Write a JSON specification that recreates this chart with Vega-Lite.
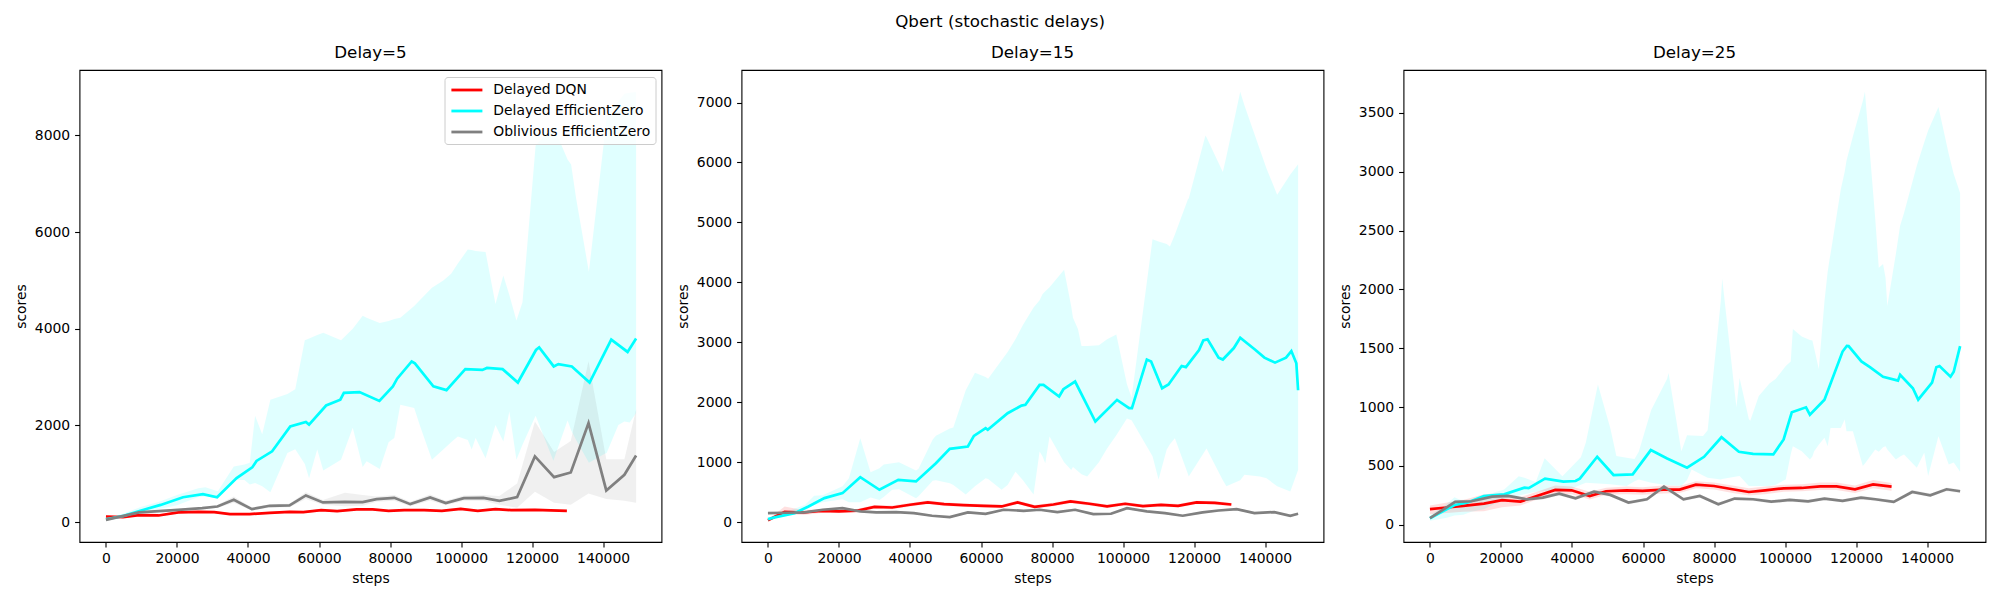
{
"$schema": "https://vega.github.io/schema/vega-lite/v6.json",
"autosize": {"type": "none"},
"padding": {"left": 79.5, "top": 70, "right": 1920.5, "bottom": 530},
"title": {"text": "Qbert (stochastic delays)", "anchor": "middle", "frame": "bounds", "offset": 14.5, "fontSize": 16.7, "fontWeight": "normal", "font": "DejaVu Sans", "color": "#000000"},
"bounds": "flush",
"spacing": 80,
"config": {
  "font": "DejaVu Sans",
  "view": {"stroke": "#000000", "strokeWidth": 1.1},
  "axis": {"domain": false, "grid": false, "ticks": true, "tickSize": 4.9, "tickWidth": 1.1, "tickColor": "#000000", "labelFontSize": 13.9, "labelColor": "#000000", "labelPadding": 4.9, "titleFontSize": 13.9, "titleFontWeight": "normal", "titleColor": "#000000", "titlePadding": 5.6, "labelFont": "DejaVu Sans", "titleFont": "DejaVu Sans", "labelFlush": false}
},
"datasets": {
"lines": [
{"d":5,"s":"Delayed DQN","x":0,"y":117},{"d":5,"s":"Delayed DQN","x":4800,"y":103},{"d":5,"s":"Delayed DQN","x":9300,"y":145},{"d":5,"s":"Delayed DQN","x":14800,"y":138},{"d":5,"s":"Delayed DQN","x":20400,"y":200},{"d":5,"s":"Delayed DQN","x":26000,"y":214},{"d":5,"s":"Delayed DQN","x":30500,"y":207},{"d":5,"s":"Delayed DQN","x":34900,"y":166},{"d":5,"s":"Delayed DQN","x":40500,"y":166},{"d":5,"s":"Delayed DQN","x":46100,"y":193},{"d":5,"s":"Delayed DQN","x":51700,"y":214},{"d":5,"s":"Delayed DQN","x":55600,"y":207},{"d":5,"s":"Delayed DQN","x":60600,"y":248},{"d":5,"s":"Delayed DQN","x":65100,"y":228},{"d":5,"s":"Delayed DQN","x":70600,"y":262},{"d":5,"s":"Delayed DQN","x":75100,"y":262},{"d":5,"s":"Delayed DQN","x":79600,"y":234},{"d":5,"s":"Delayed DQN","x":84000,"y":248},{"d":5,"s":"Delayed DQN","x":89600,"y":248},{"d":5,"s":"Delayed DQN","x":94600,"y":234},{"d":5,"s":"Delayed DQN","x":99900,"y":276},{"d":5,"s":"Delayed DQN","x":104700,"y":234},{"d":5,"s":"Delayed DQN","x":109700,"y":269},{"d":5,"s":"Delayed DQN","x":114100,"y":248},{"d":5,"s":"Delayed DQN","x":120800,"y":255},{"d":5,"s":"Delayed DQN","x":129800,"y":234},
{"d":5,"s":"Delayed EfficientZero","x":0,"y":60},{"d":5,"s":"Delayed EfficientZero","x":5000,"y":130},{"d":5,"s":"Delayed EfficientZero","x":11600,"y":277},{"d":5,"s":"Delayed EfficientZero","x":15400,"y":356},{"d":5,"s":"Delayed EfficientZero","x":21700,"y":514},{"d":5,"s":"Delayed EfficientZero","x":27300,"y":578},{"d":5,"s":"Delayed EfficientZero","x":31300,"y":514},{"d":5,"s":"Delayed EfficientZero","x":36800,"y":910},{"d":5,"s":"Delayed EfficientZero","x":41200,"y":1132},{"d":5,"s":"Delayed EfficientZero","x":42400,"y":1266},{"d":5,"s":"Delayed EfficientZero","x":46800,"y":1464},{"d":5,"s":"Delayed EfficientZero","x":51900,"y":1978},{"d":5,"s":"Delayed EfficientZero","x":56300,"y":2073},{"d":5,"s":"Delayed EfficientZero","x":57200,"y":2018},{"d":5,"s":"Delayed EfficientZero","x":62000,"y":2413},{"d":5,"s":"Delayed EfficientZero","x":66000,"y":2532},{"d":5,"s":"Delayed EfficientZero","x":67000,"y":2675},{"d":5,"s":"Delayed EfficientZero","x":71400,"y":2690},{"d":5,"s":"Delayed EfficientZero","x":77000,"y":2508},{"d":5,"s":"Delayed EfficientZero","x":80800,"y":2809},{"d":5,"s":"Delayed EfficientZero","x":82000,"y":2967},{"d":5,"s":"Delayed EfficientZero","x":86100,"y":3323},{"d":5,"s":"Delayed EfficientZero","x":87000,"y":3284},{"d":5,"s":"Delayed EfficientZero","x":92200,"y":2809},{"d":5,"s":"Delayed EfficientZero","x":95900,"y":2730},{"d":5,"s":"Delayed EfficientZero","x":101200,"y":3165},{"d":5,"s":"Delayed EfficientZero","x":106000,"y":3149},{"d":5,"s":"Delayed EfficientZero","x":107300,"y":3189},{"d":5,"s":"Delayed EfficientZero","x":111700,"y":3165},{"d":5,"s":"Delayed EfficientZero","x":116000,"y":2888},{"d":5,"s":"Delayed EfficientZero","x":121100,"y":3561},{"d":5,"s":"Delayed EfficientZero","x":122000,"y":3616},{"d":5,"s":"Delayed EfficientZero","x":126100,"y":3221},{"d":5,"s":"Delayed EfficientZero","x":127400,"y":3268},{"d":5,"s":"Delayed EfficientZero","x":131200,"y":3221},{"d":5,"s":"Delayed EfficientZero","x":136200,"y":2888},{"d":5,"s":"Delayed EfficientZero","x":142300,"y":3775},{"d":5,"s":"Delayed EfficientZero","x":146900,"y":3521},{"d":5,"s":"Delayed EfficientZero","x":149300,"y":3798},
{"d":5,"s":"Oblivious EfficientZero","x":0,"y":48},{"d":5,"s":"Oblivious EfficientZero","x":9300,"y":200},{"d":5,"s":"Oblivious EfficientZero","x":20400,"y":255},{"d":5,"s":"Oblivious EfficientZero","x":27100,"y":290},{"d":5,"s":"Oblivious EfficientZero","x":31400,"y":324},{"d":5,"s":"Oblivious EfficientZero","x":36000,"y":462},{"d":5,"s":"Oblivious EfficientZero","x":41100,"y":269},{"d":5,"s":"Oblivious EfficientZero","x":46100,"y":338},{"d":5,"s":"Oblivious EfficientZero","x":51700,"y":345},{"d":5,"s":"Oblivious EfficientZero","x":56300,"y":552},{"d":5,"s":"Oblivious EfficientZero","x":61100,"y":407},{"d":5,"s":"Oblivious EfficientZero","x":67300,"y":421},{"d":5,"s":"Oblivious EfficientZero","x":72300,"y":414},{"d":5,"s":"Oblivious EfficientZero","x":76200,"y":476},{"d":5,"s":"Oblivious EfficientZero","x":81200,"y":503},{"d":5,"s":"Oblivious EfficientZero","x":85700,"y":372},{"d":5,"s":"Oblivious EfficientZero","x":91300,"y":510},{"d":5,"s":"Oblivious EfficientZero","x":95700,"y":393},{"d":5,"s":"Oblivious EfficientZero","x":100800,"y":497},{"d":5,"s":"Oblivious EfficientZero","x":106300,"y":503},{"d":5,"s":"Oblivious EfficientZero","x":110800,"y":441},{"d":5,"s":"Oblivious EfficientZero","x":115800,"y":517},{"d":5,"s":"Oblivious EfficientZero","x":120800,"y":1359},{"d":5,"s":"Oblivious EfficientZero","x":126200,"y":931},{"d":5,"s":"Oblivious EfficientZero","x":130900,"y":1028},{"d":5,"s":"Oblivious EfficientZero","x":135900,"y":2048},{"d":5,"s":"Oblivious EfficientZero","x":140900,"y":655},{"d":5,"s":"Oblivious EfficientZero","x":146000,"y":979},{"d":5,"s":"Oblivious EfficientZero","x":149300,"y":1379},
{"d":15,"s":"Delayed DQN","x":0,"y":30},{"d":15,"s":"Delayed DQN","x":4700,"y":170},{"d":15,"s":"Delayed DQN","x":10000,"y":160},{"d":15,"s":"Delayed DQN","x":15000,"y":185},{"d":15,"s":"Delayed DQN","x":20000,"y":180},{"d":15,"s":"Delayed DQN","x":25000,"y":190},{"d":15,"s":"Delayed DQN","x":30000,"y":255},{"d":15,"s":"Delayed DQN","x":35000,"y":244},{"d":15,"s":"Delayed DQN","x":40000,"y":290},{"d":15,"s":"Delayed DQN","x":45000,"y":330},{"d":15,"s":"Delayed DQN","x":49600,"y":300},{"d":15,"s":"Delayed DQN","x":55000,"y":283},{"d":15,"s":"Delayed DQN","x":60800,"y":272},{"d":15,"s":"Delayed DQN","x":65800,"y":261},{"d":15,"s":"Delayed DQN","x":70300,"y":330},{"d":15,"s":"Delayed DQN","x":75100,"y":255},{"d":15,"s":"Delayed DQN","x":80400,"y":294},{"d":15,"s":"Delayed DQN","x":85200,"y":345},{"d":15,"s":"Delayed DQN","x":90500,"y":306},{"d":15,"s":"Delayed DQN","x":95500,"y":261},{"d":15,"s":"Delayed DQN","x":100600,"y":306},{"d":15,"s":"Delayed DQN","x":105600,"y":267},{"d":15,"s":"Delayed DQN","x":110700,"y":289},{"d":15,"s":"Delayed DQN","x":115500,"y":272},{"d":15,"s":"Delayed DQN","x":120700,"y":328},{"d":15,"s":"Delayed DQN","x":125800,"y":322},{"d":15,"s":"Delayed DQN","x":130500,"y":294},
{"d":15,"s":"Delayed EfficientZero","x":0,"y":50},{"d":15,"s":"Delayed EfficientZero","x":1900,"y":78},{"d":15,"s":"Delayed EfficientZero","x":7500,"y":150},{"d":15,"s":"Delayed EfficientZero","x":11400,"y":261},{"d":15,"s":"Delayed EfficientZero","x":15900,"y":400},{"d":15,"s":"Delayed EfficientZero","x":21000,"y":483},{"d":15,"s":"Delayed EfficientZero","x":26000,"y":750},{"d":15,"s":"Delayed EfficientZero","x":31400,"y":539},{"d":15,"s":"Delayed EfficientZero","x":36700,"y":706},{"d":15,"s":"Delayed EfficientZero","x":41700,"y":678},{"d":15,"s":"Delayed EfficientZero","x":47300,"y":983},{"d":15,"s":"Delayed EfficientZero","x":51200,"y":1222},{"d":15,"s":"Delayed EfficientZero","x":56300,"y":1261},{"d":15,"s":"Delayed EfficientZero","x":58000,"y":1439},{"d":15,"s":"Delayed EfficientZero","x":61300,"y":1567},{"d":15,"s":"Delayed EfficientZero","x":61900,"y":1539},{"d":15,"s":"Delayed EfficientZero","x":67500,"y":1817},{"d":15,"s":"Delayed EfficientZero","x":71400,"y":1944},{"d":15,"s":"Delayed EfficientZero","x":72500,"y":1956},{"d":15,"s":"Delayed EfficientZero","x":76500,"y":2289},{"d":15,"s":"Delayed EfficientZero","x":77600,"y":2289},{"d":15,"s":"Delayed EfficientZero","x":82000,"y":2095},{"d":15,"s":"Delayed EfficientZero","x":83200,"y":2217},{"d":15,"s":"Delayed EfficientZero","x":86500,"y":2345},{"d":15,"s":"Delayed EfficientZero","x":92200,"y":1678},{"d":15,"s":"Delayed EfficientZero","x":98300,"y":2039},{"d":15,"s":"Delayed EfficientZero","x":101700,"y":1900},{"d":15,"s":"Delayed EfficientZero","x":102500,"y":1900},{"d":15,"s":"Delayed EfficientZero","x":106700,"y":2712},{"d":15,"s":"Delayed EfficientZero","x":107900,"y":2680},{"d":15,"s":"Delayed EfficientZero","x":111000,"y":2234},{"d":15,"s":"Delayed EfficientZero","x":112800,"y":2297},{"d":15,"s":"Delayed EfficientZero","x":116500,"y":2604},{"d":15,"s":"Delayed EfficientZero","x":117700,"y":2585},{"d":15,"s":"Delayed EfficientZero","x":121400,"y":2872},{"d":15,"s":"Delayed EfficientZero","x":122600,"y":3031},{"d":15,"s":"Delayed EfficientZero","x":123800,"y":3050},{"d":15,"s":"Delayed EfficientZero","x":126900,"y":2744},{"d":15,"s":"Delayed EfficientZero","x":128100,"y":2712},{"d":15,"s":"Delayed EfficientZero","x":131200,"y":2904},{"d":15,"s":"Delayed EfficientZero","x":133000,"y":3076},{"d":15,"s":"Delayed EfficientZero","x":137300,"y":2872},{"d":15,"s":"Delayed EfficientZero","x":139800,"y":2744},{"d":15,"s":"Delayed EfficientZero","x":142800,"y":2661},{"d":15,"s":"Delayed EfficientZero","x":145900,"y":2744},{"d":15,"s":"Delayed EfficientZero","x":147400,"y":2853},{"d":15,"s":"Delayed EfficientZero","x":148800,"y":2650},{"d":15,"s":"Delayed EfficientZero","x":149300,"y":2200},
{"d":15,"s":"Oblivious EfficientZero","x":0,"y":150},{"d":15,"s":"Oblivious EfficientZero","x":4700,"y":156},{"d":15,"s":"Oblivious EfficientZero","x":10300,"y":161},{"d":15,"s":"Oblivious EfficientZero","x":15400,"y":206},{"d":15,"s":"Oblivious EfficientZero","x":21000,"y":233},{"d":15,"s":"Oblivious EfficientZero","x":26000,"y":178},{"d":15,"s":"Oblivious EfficientZero","x":30500,"y":161},{"d":15,"s":"Oblivious EfficientZero","x":36100,"y":167},{"d":15,"s":"Oblivious EfficientZero","x":41100,"y":150},{"d":15,"s":"Oblivious EfficientZero","x":46200,"y":106},{"d":15,"s":"Oblivious EfficientZero","x":51200,"y":83},{"d":15,"s":"Oblivious EfficientZero","x":56300,"y":161},{"d":15,"s":"Oblivious EfficientZero","x":61300,"y":139},{"d":15,"s":"Oblivious EfficientZero","x":66400,"y":206},{"d":15,"s":"Oblivious EfficientZero","x":72000,"y":189},{"d":15,"s":"Oblivious EfficientZero","x":76500,"y":206},{"d":15,"s":"Oblivious EfficientZero","x":81500,"y":167},{"d":15,"s":"Oblivious EfficientZero","x":86500,"y":206},{"d":15,"s":"Oblivious EfficientZero","x":91600,"y":133},{"d":15,"s":"Oblivious EfficientZero","x":96600,"y":139},{"d":15,"s":"Oblivious EfficientZero","x":101100,"y":233},{"d":15,"s":"Oblivious EfficientZero","x":106700,"y":178},{"d":15,"s":"Oblivious EfficientZero","x":111800,"y":150},{"d":15,"s":"Oblivious EfficientZero","x":116800,"y":106},{"d":15,"s":"Oblivious EfficientZero","x":122400,"y":161},{"d":15,"s":"Oblivious EfficientZero","x":126900,"y":194},{"d":15,"s":"Oblivious EfficientZero","x":132000,"y":217},{"d":15,"s":"Oblivious EfficientZero","x":137000,"y":150},{"d":15,"s":"Oblivious EfficientZero","x":142600,"y":167},{"d":15,"s":"Oblivious EfficientZero","x":147100,"y":106},{"d":15,"s":"Oblivious EfficientZero","x":149300,"y":139},
{"d":25,"s":"Delayed DQN","x":0,"y":133},{"d":25,"s":"Delayed DQN","x":4800,"y":147},{"d":25,"s":"Delayed DQN","x":9400,"y":161},{"d":25,"s":"Delayed DQN","x":15200,"y":180},{"d":25,"s":"Delayed DQN","x":20300,"y":209},{"d":25,"s":"Delayed DQN","x":25500,"y":197},{"d":25,"s":"Delayed DQN","x":30100,"y":245},{"d":25,"s":"Delayed DQN","x":35300,"y":296},{"d":25,"s":"Delayed DQN","x":39900,"y":293},{"d":25,"s":"Delayed DQN","x":45000,"y":245},{"d":25,"s":"Delayed DQN","x":49600,"y":285},{"d":25,"s":"Delayed DQN","x":55400,"y":293},{"d":25,"s":"Delayed DQN","x":59900,"y":288},{"d":25,"s":"Delayed DQN","x":65700,"y":299},{"d":25,"s":"Delayed DQN","x":70300,"y":299},{"d":25,"s":"Delayed DQN","x":74900,"y":341},{"d":25,"s":"Delayed DQN","x":80000,"y":330},{"d":25,"s":"Delayed DQN","x":85200,"y":302},{"d":25,"s":"Delayed DQN","x":89800,"y":279},{"d":25,"s":"Delayed DQN","x":94400,"y":293},{"d":25,"s":"Delayed DQN","x":99600,"y":310},{"d":25,"s":"Delayed DQN","x":104700,"y":313},{"d":25,"s":"Delayed DQN","x":109900,"y":327},{"d":25,"s":"Delayed DQN","x":114500,"y":327},{"d":25,"s":"Delayed DQN","x":119700,"y":302},{"d":25,"s":"Delayed DQN","x":124800,"y":344},{"d":25,"s":"Delayed DQN","x":130000,"y":324},
{"d":25,"s":"Delayed EfficientZero","x":0,"y":56},{"d":25,"s":"Delayed EfficientZero","x":4800,"y":133},{"d":25,"s":"Delayed EfficientZero","x":7100,"y":169},{"d":25,"s":"Delayed EfficientZero","x":10600,"y":189},{"d":25,"s":"Delayed EfficientZero","x":15200,"y":245},{"d":25,"s":"Delayed EfficientZero","x":20900,"y":259},{"d":25,"s":"Delayed EfficientZero","x":26600,"y":316},{"d":25,"s":"Delayed EfficientZero","x":27800,"y":312},{"d":25,"s":"Delayed EfficientZero","x":32400,"y":392},{"d":25,"s":"Delayed EfficientZero","x":37600,"y":367},{"d":25,"s":"Delayed EfficientZero","x":41000,"y":372},{"d":25,"s":"Delayed EfficientZero","x":42200,"y":392},{"d":25,"s":"Delayed EfficientZero","x":47100,"y":578},{"d":25,"s":"Delayed EfficientZero","x":51700,"y":423},{"d":25,"s":"Delayed EfficientZero","x":57100,"y":429},{"d":25,"s":"Delayed EfficientZero","x":62200,"y":635},{"d":25,"s":"Delayed EfficientZero","x":66800,"y":564},{"d":25,"s":"Delayed EfficientZero","x":72400,"y":485},{"d":25,"s":"Delayed EfficientZero","x":77200,"y":578},{"d":25,"s":"Delayed EfficientZero","x":82100,"y":744},{"d":25,"s":"Delayed EfficientZero","x":87000,"y":620},{"d":25,"s":"Delayed EfficientZero","x":91000,"y":603},{"d":25,"s":"Delayed EfficientZero","x":96700,"y":598},{"d":25,"s":"Delayed EfficientZero","x":99600,"y":725},{"d":25,"s":"Delayed EfficientZero","x":101900,"y":956},{"d":25,"s":"Delayed EfficientZero","x":105900,"y":998},{"d":25,"s":"Delayed EfficientZero","x":107000,"y":936},{"d":25,"s":"Delayed EfficientZero","x":111100,"y":1063},{"d":25,"s":"Delayed EfficientZero","x":116200,"y":1472},{"d":25,"s":"Delayed EfficientZero","x":117400,"y":1520},{"d":25,"s":"Delayed EfficientZero","x":117900,"y":1518},{"d":25,"s":"Delayed EfficientZero","x":121500,"y":1388},{"d":25,"s":"Delayed EfficientZero","x":123900,"y":1339},{"d":25,"s":"Delayed EfficientZero","x":127600,"y":1258},{"d":25,"s":"Delayed EfficientZero","x":131800,"y":1225},{"d":25,"s":"Delayed EfficientZero","x":132400,"y":1274},{"d":25,"s":"Delayed EfficientZero","x":136000,"y":1160},{"d":25,"s":"Delayed EfficientZero","x":137500,"y":1063},{"d":25,"s":"Delayed EfficientZero","x":141400,"y":1209},{"d":25,"s":"Delayed EfficientZero","x":142600,"y":1339},{"d":25,"s":"Delayed EfficientZero","x":143500,"y":1349},{"d":25,"s":"Delayed EfficientZero","x":146600,"y":1258},{"d":25,"s":"Delayed EfficientZero","x":147500,"y":1300},{"d":25,"s":"Delayed EfficientZero","x":149300,"y":1518},
{"d":25,"s":"Oblivious EfficientZero","x":0,"y":56},{"d":25,"s":"Oblivious EfficientZero","x":7100,"y":195},{"d":25,"s":"Oblivious EfficientZero","x":11700,"y":200},{"d":25,"s":"Oblivious EfficientZero","x":17500,"y":240},{"d":25,"s":"Oblivious EfficientZero","x":22000,"y":245},{"d":25,"s":"Oblivious EfficientZero","x":27200,"y":217},{"d":25,"s":"Oblivious EfficientZero","x":31800,"y":231},{"d":25,"s":"Oblivious EfficientZero","x":36400,"y":265},{"d":25,"s":"Oblivious EfficientZero","x":41000,"y":226},{"d":25,"s":"Oblivious EfficientZero","x":46200,"y":282},{"d":25,"s":"Oblivious EfficientZero","x":50800,"y":254},{"d":25,"s":"Oblivious EfficientZero","x":55900,"y":189},{"d":25,"s":"Oblivious EfficientZero","x":61100,"y":217},{"d":25,"s":"Oblivious EfficientZero","x":65900,"y":324},{"d":25,"s":"Oblivious EfficientZero","x":71400,"y":217},{"d":25,"s":"Oblivious EfficientZero","x":76000,"y":245},{"d":25,"s":"Oblivious EfficientZero","x":81200,"y":175},{"d":25,"s":"Oblivious EfficientZero","x":85800,"y":223},{"d":25,"s":"Oblivious EfficientZero","x":91000,"y":217},{"d":25,"s":"Oblivious EfficientZero","x":96100,"y":197},{"d":25,"s":"Oblivious EfficientZero","x":101300,"y":211},{"d":25,"s":"Oblivious EfficientZero","x":106500,"y":200},{"d":25,"s":"Oblivious EfficientZero","x":111100,"y":223},{"d":25,"s":"Oblivious EfficientZero","x":116200,"y":203},{"d":25,"s":"Oblivious EfficientZero","x":121400,"y":231},{"d":25,"s":"Oblivious EfficientZero","x":125400,"y":217},{"d":25,"s":"Oblivious EfficientZero","x":130600,"y":195},{"d":25,"s":"Oblivious EfficientZero","x":135800,"y":279},{"d":25,"s":"Oblivious EfficientZero","x":140900,"y":251},{"d":25,"s":"Oblivious EfficientZero","x":145500,"y":302},{"d":25,"s":"Oblivious EfficientZero","x":149300,"y":285}
],
"bands": [
{"d":5,"s":"Delayed EfficientZero","x":0,"lo":55,"hi":75},{"d":5,"s":"Delayed EfficientZero","x":5000,"lo":110,"hi":180},{"d":5,"s":"Delayed EfficientZero","x":10000,"lo":200,"hi":320},{"d":5,"s":"Delayed EfficientZero","x":15000,"lo":270,"hi":420},{"d":5,"s":"Delayed EfficientZero","x":20000,"lo":350,"hi":560},{"d":5,"s":"Delayed EfficientZero","x":26000,"lo":520,"hi":700},{"d":5,"s":"Delayed EfficientZero","x":28000,"lo":530,"hi":720},{"d":5,"s":"Delayed EfficientZero","x":31500,"lo":500,"hi":640},{"d":5,"s":"Delayed EfficientZero","x":36000,"lo":870,"hi":1150},{"d":5,"s":"Delayed EfficientZero","x":39000,"lo":870,"hi":1190},{"d":5,"s":"Delayed EfficientZero","x":40500,"lo":780,"hi":1230},{"d":5,"s":"Delayed EfficientZero","x":42000,"lo":810,"hi":2200},{"d":5,"s":"Delayed EfficientZero","x":44000,"lo":740,"hi":1820},{"d":5,"s":"Delayed EfficientZero","x":46300,"lo":620,"hi":2530},{"d":5,"s":"Delayed EfficientZero","x":51100,"lo":1430,"hi":2650},{"d":5,"s":"Delayed EfficientZero","x":53300,"lo":1510,"hi":2750},{"d":5,"s":"Delayed EfficientZero","x":56000,"lo":1200,"hi":3760},{"d":5,"s":"Delayed EfficientZero","x":57200,"lo":910,"hi":3800},{"d":5,"s":"Delayed EfficientZero","x":59500,"lo":1500,"hi":3870},{"d":5,"s":"Delayed EfficientZero","x":61200,"lo":1070,"hi":3920},{"d":5,"s":"Delayed EfficientZero","x":66200,"lo":1290,"hi":3760},{"d":5,"s":"Delayed EfficientZero","x":69500,"lo":1950,"hi":4000},{"d":5,"s":"Delayed EfficientZero","x":72300,"lo":1140,"hi":4270},{"d":5,"s":"Delayed EfficientZero","x":73400,"lo":1260,"hi":4230},{"d":5,"s":"Delayed EfficientZero","x":77100,"lo":1100,"hi":4120},{"d":5,"s":"Delayed EfficientZero","x":79600,"lo":1650,"hi":4160},{"d":5,"s":"Delayed EfficientZero","x":81200,"lo":1740,"hi":4200},{"d":5,"s":"Delayed EfficientZero","x":82900,"lo":2430,"hi":4230},{"d":5,"s":"Delayed EfficientZero","x":86800,"lo":2360,"hi":4470},{"d":5,"s":"Delayed EfficientZero","x":88500,"lo":1980,"hi":4600},{"d":5,"s":"Delayed EfficientZero","x":91800,"lo":1290,"hi":4850},{"d":5,"s":"Delayed EfficientZero","x":95000,"lo":1500,"hi":5000},{"d":5,"s":"Delayed EfficientZero","x":97200,"lo":1650,"hi":5140},{"d":5,"s":"Delayed EfficientZero","x":99100,"lo":1770,"hi":5350},{"d":5,"s":"Delayed EfficientZero","x":101900,"lo":1700,"hi":5640},{"d":5,"s":"Delayed EfficientZero","x":103000,"lo":1500,"hi":5630},{"d":5,"s":"Delayed EfficientZero","x":104100,"lo":1740,"hi":5610},{"d":5,"s":"Delayed EfficientZero","x":106900,"lo":1320,"hi":5590},{"d":5,"s":"Delayed EfficientZero","x":109700,"lo":2010,"hi":4510},{"d":5,"s":"Delayed EfficientZero","x":111900,"lo":1670,"hi":5100},{"d":5,"s":"Delayed EfficientZero","x":113600,"lo":2290,"hi":4700},{"d":5,"s":"Delayed EfficientZero","x":115600,"lo":1290,"hi":4170},{"d":5,"s":"Delayed EfficientZero","x":117300,"lo":1600,"hi":4550},{"d":5,"s":"Delayed EfficientZero","x":121000,"lo":2200,"hi":7790},{"d":5,"s":"Delayed EfficientZero","x":126000,"lo":1270,"hi":8190},{"d":5,"s":"Delayed EfficientZero","x":130000,"lo":2100,"hi":7500},{"d":5,"s":"Delayed EfficientZero","x":131000,"lo":1900,"hi":7400},{"d":5,"s":"Delayed EfficientZero","x":132400,"lo":1700,"hi":6700},{"d":5,"s":"Delayed EfficientZero","x":136000,"lo":1230,"hi":5180},{"d":5,"s":"Delayed EfficientZero","x":140600,"lo":1420,"hi":8100},{"d":5,"s":"Delayed EfficientZero","x":141000,"lo":1430,"hi":8390},{"d":5,"s":"Delayed EfficientZero","x":144300,"lo":2010,"hi":8700},{"d":5,"s":"Delayed EfficientZero","x":146000,"lo":2080,"hi":8860},{"d":5,"s":"Delayed EfficientZero","x":147500,"lo":2060,"hi":8880},{"d":5,"s":"Delayed EfficientZero","x":149300,"lo":2260,"hi":8900},
{"d":5,"s":"Delayed DQN","x":0,"lo":95,"hi":140},{"d":5,"s":"Delayed DQN","x":4800,"lo":85,"hi":125},{"d":5,"s":"Delayed DQN","x":9300,"lo":120,"hi":170},{"d":5,"s":"Delayed DQN","x":14800,"lo":115,"hi":165},{"d":5,"s":"Delayed DQN","x":20400,"lo":175,"hi":225},{"d":5,"s":"Delayed DQN","x":26000,"lo":190,"hi":240},{"d":5,"s":"Delayed DQN","x":30500,"lo":185,"hi":230},{"d":5,"s":"Delayed DQN","x":34900,"lo":145,"hi":190},{"d":5,"s":"Delayed DQN","x":40500,"lo":145,"hi":190},{"d":5,"s":"Delayed DQN","x":46100,"lo":170,"hi":215},{"d":5,"s":"Delayed DQN","x":51700,"lo":190,"hi":240},{"d":5,"s":"Delayed DQN","x":55600,"lo":185,"hi":230},{"d":5,"s":"Delayed DQN","x":60600,"lo":225,"hi":270},{"d":5,"s":"Delayed DQN","x":65100,"lo":205,"hi":250},{"d":5,"s":"Delayed DQN","x":70600,"lo":240,"hi":285},{"d":5,"s":"Delayed DQN","x":75100,"lo":240,"hi":285},{"d":5,"s":"Delayed DQN","x":79600,"lo":210,"hi":255},{"d":5,"s":"Delayed DQN","x":84000,"lo":225,"hi":270},{"d":5,"s":"Delayed DQN","x":89600,"lo":225,"hi":270},{"d":5,"s":"Delayed DQN","x":94600,"lo":210,"hi":255},{"d":5,"s":"Delayed DQN","x":99900,"lo":250,"hi":300},{"d":5,"s":"Delayed DQN","x":104700,"lo":210,"hi":255},{"d":5,"s":"Delayed DQN","x":109700,"lo":245,"hi":290},{"d":5,"s":"Delayed DQN","x":114100,"lo":225,"hi":270},{"d":5,"s":"Delayed DQN","x":120800,"lo":230,"hi":280},{"d":5,"s":"Delayed DQN","x":129800,"lo":210,"hi":255},
{"d":5,"s":"Oblivious EfficientZero","x":0,"lo":35,"hi":60},{"d":5,"s":"Oblivious EfficientZero","x":9300,"lo":175,"hi":225},{"d":5,"s":"Oblivious EfficientZero","x":20400,"lo":230,"hi":280},{"d":5,"s":"Oblivious EfficientZero","x":27100,"lo":265,"hi":315},{"d":5,"s":"Oblivious EfficientZero","x":31400,"lo":295,"hi":355},{"d":5,"s":"Oblivious EfficientZero","x":36000,"lo":400,"hi":530},{"d":5,"s":"Oblivious EfficientZero","x":41100,"lo":235,"hi":305},{"d":5,"s":"Oblivious EfficientZero","x":46100,"lo":305,"hi":370},{"d":5,"s":"Oblivious EfficientZero","x":51700,"lo":310,"hi":380},{"d":5,"s":"Oblivious EfficientZero","x":56300,"lo":480,"hi":620},{"d":5,"s":"Oblivious EfficientZero","x":61100,"lo":360,"hi":460},{"d":5,"s":"Oblivious EfficientZero","x":67300,"lo":330,"hi":610},{"d":5,"s":"Oblivious EfficientZero","x":72300,"lo":340,"hi":560},{"d":5,"s":"Oblivious EfficientZero","x":76200,"lo":420,"hi":530},{"d":5,"s":"Oblivious EfficientZero","x":81200,"lo":440,"hi":560},{"d":5,"s":"Oblivious EfficientZero","x":85700,"lo":330,"hi":420},{"d":5,"s":"Oblivious EfficientZero","x":91300,"lo":450,"hi":570},{"d":5,"s":"Oblivious EfficientZero","x":95700,"lo":350,"hi":440},{"d":5,"s":"Oblivious EfficientZero","x":100800,"lo":440,"hi":550},{"d":5,"s":"Oblivious EfficientZero","x":106300,"lo":440,"hi":560},{"d":5,"s":"Oblivious EfficientZero","x":110800,"lo":360,"hi":540},{"d":5,"s":"Oblivious EfficientZero","x":115800,"lo":300,"hi":800},{"d":5,"s":"Oblivious EfficientZero","x":120800,"lo":630,"hi":2080},{"d":5,"s":"Oblivious EfficientZero","x":126200,"lo":400,"hi":1450},{"d":5,"s":"Oblivious EfficientZero","x":130900,"lo":360,"hi":1680},{"d":5,"s":"Oblivious EfficientZero","x":135900,"lo":590,"hi":3330},{"d":5,"s":"Oblivious EfficientZero","x":140900,"lo":480,"hi":1300},{"d":5,"s":"Oblivious EfficientZero","x":146000,"lo":440,"hi":1300},{"d":5,"s":"Oblivious EfficientZero","x":149300,"lo":400,"hi":2330},
{"d":15,"s":"Delayed EfficientZero","x":0,"lo":30,"hi":64},{"d":15,"s":"Delayed EfficientZero","x":5000,"lo":100,"hi":170},{"d":15,"s":"Delayed EfficientZero","x":10500,"lo":200,"hi":290},{"d":15,"s":"Delayed EfficientZero","x":13000,"lo":280,"hi":440},{"d":15,"s":"Delayed EfficientZero","x":15400,"lo":330,"hi":450},{"d":15,"s":"Delayed EfficientZero","x":21000,"lo":380,"hi":600},{"d":15,"s":"Delayed EfficientZero","x":22800,"lo":330,"hi":730},{"d":15,"s":"Delayed EfficientZero","x":26000,"lo":330,"hi":1400},{"d":15,"s":"Delayed EfficientZero","x":28900,"lo":410,"hi":830},{"d":15,"s":"Delayed EfficientZero","x":31400,"lo":370,"hi":900},{"d":15,"s":"Delayed EfficientZero","x":32600,"lo":420,"hi":960},{"d":15,"s":"Delayed EfficientZero","x":35000,"lo":540,"hi":980},{"d":15,"s":"Delayed EfficientZero","x":36900,"lo":550,"hi":1000},{"d":15,"s":"Delayed EfficientZero","x":41700,"lo":400,"hi":860},{"d":15,"s":"Delayed EfficientZero","x":42400,"lo":430,"hi":890},{"d":15,"s":"Delayed EfficientZero","x":46400,"lo":690,"hi":1380},{"d":15,"s":"Delayed EfficientZero","x":47300,"lo":700,"hi":1440},{"d":15,"s":"Delayed EfficientZero","x":51200,"lo":650,"hi":1560},{"d":15,"s":"Delayed EfficientZero","x":52200,"lo":620,"hi":1580},{"d":15,"s":"Delayed EfficientZero","x":55700,"lo":460,"hi":2200},{"d":15,"s":"Delayed EfficientZero","x":58300,"lo":600,"hi":2490},{"d":15,"s":"Delayed EfficientZero","x":61300,"lo":730,"hi":2420},{"d":15,"s":"Delayed EfficientZero","x":62000,"lo":720,"hi":2390},{"d":15,"s":"Delayed EfficientZero","x":65800,"lo":540,"hi":2700},{"d":15,"s":"Delayed EfficientZero","x":67500,"lo":620,"hi":2840},{"d":15,"s":"Delayed EfficientZero","x":69700,"lo":840,"hi":3050},{"d":15,"s":"Delayed EfficientZero","x":71800,"lo":700,"hi":3290},{"d":15,"s":"Delayed EfficientZero","x":74800,"lo":460,"hi":3580},{"d":15,"s":"Delayed EfficientZero","x":76500,"lo":1180,"hi":3700},{"d":15,"s":"Delayed EfficientZero","x":77300,"lo":1100,"hi":3800},{"d":15,"s":"Delayed EfficientZero","x":78100,"lo":980,"hi":3850},{"d":15,"s":"Delayed EfficientZero","x":79300,"lo":1430,"hi":3920},{"d":15,"s":"Delayed EfficientZero","x":83400,"lo":1000,"hi":4210},{"d":15,"s":"Delayed EfficientZero","x":85400,"lo":870,"hi":3600},{"d":15,"s":"Delayed EfficientZero","x":85900,"lo":920,"hi":3410},{"d":15,"s":"Delayed EfficientZero","x":87300,"lo":850,"hi":3220},{"d":15,"s":"Delayed EfficientZero","x":88300,"lo":800,"hi":2940},{"d":15,"s":"Delayed EfficientZero","x":89900,"lo":760,"hi":2940},{"d":15,"s":"Delayed EfficientZero","x":93200,"lo":1000,"hi":2950},{"d":15,"s":"Delayed EfficientZero","x":95500,"lo":1230,"hi":3050},{"d":15,"s":"Delayed EfficientZero","x":98100,"lo":1450,"hi":3130},{"d":15,"s":"Delayed EfficientZero","x":101100,"lo":1730,"hi":2300},{"d":15,"s":"Delayed EfficientZero","x":102400,"lo":1700,"hi":2080},{"d":15,"s":"Delayed EfficientZero","x":108300,"lo":1100,"hi":4720},{"d":15,"s":"Delayed EfficientZero","x":110000,"lo":710,"hi":4680},{"d":15,"s":"Delayed EfficientZero","x":112300,"lo":1210,"hi":4640},{"d":15,"s":"Delayed EfficientZero","x":113200,"lo":1300,"hi":4600},{"d":15,"s":"Delayed EfficientZero","x":114600,"lo":1400,"hi":4800},{"d":15,"s":"Delayed EfficientZero","x":118300,"lo":800,"hi":5390},{"d":15,"s":"Delayed EfficientZero","x":118500,"lo":760,"hi":5400},{"d":15,"s":"Delayed EfficientZero","x":123200,"lo":1200,"hi":6450},{"d":15,"s":"Delayed EfficientZero","x":123500,"lo":1230,"hi":6420},{"d":15,"s":"Delayed EfficientZero","x":128100,"lo":700,"hi":5840},{"d":15,"s":"Delayed EfficientZero","x":129100,"lo":600,"hi":6100},{"d":15,"s":"Delayed EfficientZero","x":133000,"lo":700,"hi":7180},{"d":15,"s":"Delayed EfficientZero","x":134200,"lo":790,"hi":6950},{"d":15,"s":"Delayed EfficientZero","x":138500,"lo":760,"hi":6220},{"d":15,"s":"Delayed EfficientZero","x":140400,"lo":730,"hi":5900},{"d":15,"s":"Delayed EfficientZero","x":143400,"lo":600,"hi":5460},{"d":15,"s":"Delayed EfficientZero","x":147100,"lo":510,"hi":5800},{"d":15,"s":"Delayed EfficientZero","x":149300,"lo":870,"hi":5970},
{"d":15,"s":"Delayed DQN","x":0,"lo":20,"hi":45},{"d":15,"s":"Delayed DQN","x":4700,"lo":130,"hi":260},{"d":15,"s":"Delayed DQN","x":10000,"lo":120,"hi":200},{"d":15,"s":"Delayed DQN","x":15000,"lo":150,"hi":220},{"d":15,"s":"Delayed DQN","x":20000,"lo":150,"hi":210},{"d":15,"s":"Delayed DQN","x":25000,"lo":160,"hi":220},{"d":15,"s":"Delayed DQN","x":30000,"lo":225,"hi":285},{"d":15,"s":"Delayed DQN","x":35000,"lo":215,"hi":275},{"d":15,"s":"Delayed DQN","x":40000,"lo":260,"hi":320},{"d":15,"s":"Delayed DQN","x":45000,"lo":300,"hi":360},{"d":15,"s":"Delayed DQN","x":49600,"lo":270,"hi":330},{"d":15,"s":"Delayed DQN","x":55000,"lo":255,"hi":310},{"d":15,"s":"Delayed DQN","x":60800,"lo":245,"hi":300},{"d":15,"s":"Delayed DQN","x":65800,"lo":235,"hi":290},{"d":15,"s":"Delayed DQN","x":70300,"lo":300,"hi":360},{"d":15,"s":"Delayed DQN","x":75100,"lo":225,"hi":285},{"d":15,"s":"Delayed DQN","x":80400,"lo":265,"hi":325},{"d":15,"s":"Delayed DQN","x":85200,"lo":315,"hi":375},{"d":15,"s":"Delayed DQN","x":90500,"lo":275,"hi":335},{"d":15,"s":"Delayed DQN","x":95500,"lo":235,"hi":290},{"d":15,"s":"Delayed DQN","x":100600,"lo":275,"hi":335},{"d":15,"s":"Delayed DQN","x":105600,"lo":240,"hi":295},{"d":15,"s":"Delayed DQN","x":110700,"lo":260,"hi":320},{"d":15,"s":"Delayed DQN","x":115500,"lo":245,"hi":300},{"d":15,"s":"Delayed DQN","x":120700,"lo":300,"hi":355},{"d":15,"s":"Delayed DQN","x":125800,"lo":295,"hi":350},{"d":15,"s":"Delayed DQN","x":130500,"lo":265,"hi":320},
{"d":15,"s":"Oblivious EfficientZero","x":0,"lo":135,"hi":165},{"d":15,"s":"Oblivious EfficientZero","x":4700,"lo":140,"hi":172},{"d":15,"s":"Oblivious EfficientZero","x":10300,"lo":145,"hi":178},{"d":15,"s":"Oblivious EfficientZero","x":15400,"lo":188,"hi":224},{"d":15,"s":"Oblivious EfficientZero","x":21000,"lo":213,"hi":253},{"d":15,"s":"Oblivious EfficientZero","x":26000,"lo":160,"hi":196},{"d":15,"s":"Oblivious EfficientZero","x":30500,"lo":143,"hi":179},{"d":15,"s":"Oblivious EfficientZero","x":36100,"lo":150,"hi":185},{"d":15,"s":"Oblivious EfficientZero","x":41100,"lo":133,"hi":168},{"d":15,"s":"Oblivious EfficientZero","x":46200,"lo":90,"hi":123},{"d":15,"s":"Oblivious EfficientZero","x":51200,"lo":68,"hi":99},{"d":15,"s":"Oblivious EfficientZero","x":56300,"lo":143,"hi":179},{"d":15,"s":"Oblivious EfficientZero","x":61300,"lo":122,"hi":157},{"d":15,"s":"Oblivious EfficientZero","x":66400,"lo":188,"hi":224},{"d":15,"s":"Oblivious EfficientZero","x":72000,"lo":171,"hi":207},{"d":15,"s":"Oblivious EfficientZero","x":76500,"lo":188,"hi":224},{"d":15,"s":"Oblivious EfficientZero","x":81500,"lo":150,"hi":185},{"d":15,"s":"Oblivious EfficientZero","x":86500,"lo":188,"hi":224},{"d":15,"s":"Oblivious EfficientZero","x":91600,"lo":116,"hi":150},{"d":15,"s":"Oblivious EfficientZero","x":96600,"lo":122,"hi":157},{"d":15,"s":"Oblivious EfficientZero","x":101100,"lo":213,"hi":253},{"d":15,"s":"Oblivious EfficientZero","x":106700,"lo":160,"hi":196},{"d":15,"s":"Oblivious EfficientZero","x":111800,"lo":133,"hi":168},{"d":15,"s":"Oblivious EfficientZero","x":116800,"lo":90,"hi":123},{"d":15,"s":"Oblivious EfficientZero","x":122400,"lo":143,"hi":179},{"d":15,"s":"Oblivious EfficientZero","x":126900,"lo":176,"hi":212},{"d":15,"s":"Oblivious EfficientZero","x":132000,"lo":198,"hi":236},{"d":15,"s":"Oblivious EfficientZero","x":137000,"lo":133,"hi":168},{"d":15,"s":"Oblivious EfficientZero","x":142600,"lo":150,"hi":185},{"d":15,"s":"Oblivious EfficientZero","x":147100,"lo":90,"hi":123},{"d":15,"s":"Oblivious EfficientZero","x":149300,"lo":122,"hi":157},
{"d":25,"s":"Delayed EfficientZero","x":0,"lo":34,"hi":80},{"d":25,"s":"Delayed EfficientZero","x":4800,"lo":60,"hi":180},{"d":25,"s":"Delayed EfficientZero","x":6900,"lo":80,"hi":234},{"d":25,"s":"Delayed EfficientZero","x":9400,"lo":85,"hi":200},{"d":25,"s":"Delayed EfficientZero","x":11700,"lo":110,"hi":175},{"d":25,"s":"Delayed EfficientZero","x":15200,"lo":133,"hi":250},{"d":25,"s":"Delayed EfficientZero","x":20900,"lo":217,"hi":300},{"d":25,"s":"Delayed EfficientZero","x":25000,"lo":250,"hi":413},{"d":25,"s":"Delayed EfficientZero","x":26600,"lo":259,"hi":400},{"d":25,"s":"Delayed EfficientZero","x":29800,"lo":280,"hi":364},{"d":25,"s":"Delayed EfficientZero","x":32300,"lo":288,"hi":566},{"d":25,"s":"Delayed EfficientZero","x":37300,"lo":274,"hi":413},{"d":25,"s":"Delayed EfficientZero","x":42500,"lo":340,"hi":575},{"d":25,"s":"Delayed EfficientZero","x":43900,"lo":358,"hi":700},{"d":25,"s":"Delayed EfficientZero","x":47300,"lo":352,"hi":1193},{"d":25,"s":"Delayed EfficientZero","x":50800,"lo":344,"hi":820},{"d":25,"s":"Delayed EfficientZero","x":52500,"lo":338,"hi":585},{"d":25,"s":"Delayed EfficientZero","x":55400,"lo":330,"hi":570},{"d":25,"s":"Delayed EfficientZero","x":57600,"lo":370,"hi":559},{"d":25,"s":"Delayed EfficientZero","x":58800,"lo":386,"hi":620},{"d":25,"s":"Delayed EfficientZero","x":62300,"lo":358,"hi":975},{"d":25,"s":"Delayed EfficientZero","x":66800,"lo":336,"hi":1240},{"d":25,"s":"Delayed EfficientZero","x":67200,"lo":336,"hi":1290},{"d":25,"s":"Delayed EfficientZero","x":70800,"lo":330,"hi":624},{"d":25,"s":"Delayed EfficientZero","x":72400,"lo":380,"hi":761},{"d":25,"s":"Delayed EfficientZero","x":73700,"lo":471,"hi":758},{"d":25,"s":"Delayed EfficientZero","x":76900,"lo":420,"hi":754},{"d":25,"s":"Delayed EfficientZero","x":78200,"lo":400,"hi":803},{"d":25,"s":"Delayed EfficientZero","x":81900,"lo":386,"hi":1900},{"d":25,"s":"Delayed EfficientZero","x":82300,"lo":390,"hi":2093},{"d":25,"s":"Delayed EfficientZero","x":86300,"lo":410,"hi":998},{"d":25,"s":"Delayed EfficientZero","x":87200,"lo":414,"hi":1248},{"d":25,"s":"Delayed EfficientZero","x":89800,"lo":330,"hi":900},{"d":25,"s":"Delayed EfficientZero","x":90200,"lo":330,"hi":884},{"d":25,"s":"Delayed EfficientZero","x":92600,"lo":330,"hi":1095},{"d":25,"s":"Delayed EfficientZero","x":95600,"lo":330,"hi":1200},{"d":25,"s":"Delayed EfficientZero","x":97400,"lo":340,"hi":1241},{"d":25,"s":"Delayed EfficientZero","x":100200,"lo":386,"hi":1350},{"d":25,"s":"Delayed EfficientZero","x":101600,"lo":600,"hi":1388},{"d":25,"s":"Delayed EfficientZero","x":102200,"lo":668,"hi":1664},{"d":25,"s":"Delayed EfficientZero","x":104700,"lo":626,"hi":1600},{"d":25,"s":"Delayed EfficientZero","x":107000,"lo":555,"hi":1570},{"d":25,"s":"Delayed EfficientZero","x":107700,"lo":580,"hi":1566},{"d":25,"s":"Delayed EfficientZero","x":108200,"lo":626,"hi":1500},{"d":25,"s":"Delayed EfficientZero","x":109500,"lo":680,"hi":1323},{"d":25,"s":"Delayed EfficientZero","x":111100,"lo":739,"hi":1900},{"d":25,"s":"Delayed EfficientZero","x":112000,"lo":668,"hi":2150},{"d":25,"s":"Delayed EfficientZero","x":112500,"lo":760,"hi":2249},{"d":25,"s":"Delayed EfficientZero","x":112800,"lo":823,"hi":2300},{"d":25,"s":"Delayed EfficientZero","x":115700,"lo":823,"hi":2850},{"d":25,"s":"Delayed EfficientZero","x":116800,"lo":894,"hi":3000},{"d":25,"s":"Delayed EfficientZero","x":117300,"lo":795,"hi":3094},{"d":25,"s":"Delayed EfficientZero","x":119100,"lo":795,"hi":3300},{"d":25,"s":"Delayed EfficientZero","x":121900,"lo":499,"hi":3600},{"d":25,"s":"Delayed EfficientZero","x":122500,"lo":520,"hi":3679},{"d":25,"s":"Delayed EfficientZero","x":125400,"lo":640,"hi":2600},{"d":25,"s":"Delayed EfficientZero","x":126400,"lo":620,"hi":2184},{"d":25,"s":"Delayed EfficientZero","x":127600,"lo":660,"hi":2216},{"d":25,"s":"Delayed EfficientZero","x":128300,"lo":668,"hi":2100},{"d":25,"s":"Delayed EfficientZero","x":128800,"lo":640,"hi":1859},{"d":25,"s":"Delayed EfficientZero","x":131200,"lo":555,"hi":2300},{"d":25,"s":"Delayed EfficientZero","x":132400,"lo":580,"hi":2541},{"d":25,"s":"Delayed EfficientZero","x":133500,"lo":598,"hi":2650},{"d":25,"s":"Delayed EfficientZero","x":137100,"lo":485,"hi":3050},{"d":25,"s":"Delayed EfficientZero","x":139200,"lo":612,"hi":3250},{"d":25,"s":"Delayed EfficientZero","x":140300,"lo":414,"hi":3350},{"d":25,"s":"Delayed EfficientZero","x":143200,"lo":753,"hi":3550},{"d":25,"s":"Delayed EfficientZero","x":146100,"lo":513,"hi":3150},{"d":25,"s":"Delayed EfficientZero","x":147500,"lo":530,"hi":2980},{"d":25,"s":"Delayed EfficientZero","x":149300,"lo":450,"hi":2818},
{"d":25,"s":"Delayed DQN","x":0,"lo":90,"hi":165},{"d":25,"s":"Delayed DQN","x":4800,"lo":100,"hi":190},{"d":25,"s":"Delayed DQN","x":9400,"lo":110,"hi":210},{"d":25,"s":"Delayed DQN","x":15200,"lo":115,"hi":260},{"d":25,"s":"Delayed DQN","x":20300,"lo":150,"hi":270},{"d":25,"s":"Delayed DQN","x":25500,"lo":165,"hi":235},{"d":25,"s":"Delayed DQN","x":30100,"lo":215,"hi":280},{"d":25,"s":"Delayed DQN","x":35300,"lo":255,"hi":335},{"d":25,"s":"Delayed DQN","x":39900,"lo":260,"hi":325},{"d":25,"s":"Delayed DQN","x":45000,"lo":215,"hi":280},{"d":25,"s":"Delayed DQN","x":49600,"lo":255,"hi":315},{"d":25,"s":"Delayed DQN","x":55400,"lo":260,"hi":325},{"d":25,"s":"Delayed DQN","x":59900,"lo":255,"hi":320},{"d":25,"s":"Delayed DQN","x":65700,"lo":265,"hi":335},{"d":25,"s":"Delayed DQN","x":70300,"lo":270,"hi":330},{"d":25,"s":"Delayed DQN","x":74900,"lo":310,"hi":370},{"d":25,"s":"Delayed DQN","x":80000,"lo":300,"hi":360},{"d":25,"s":"Delayed DQN","x":85200,"lo":270,"hi":335},{"d":25,"s":"Delayed DQN","x":89800,"lo":250,"hi":310},{"d":25,"s":"Delayed DQN","x":94400,"lo":260,"hi":325},{"d":25,"s":"Delayed DQN","x":99600,"lo":280,"hi":340},{"d":25,"s":"Delayed DQN","x":104700,"lo":285,"hi":345},{"d":25,"s":"Delayed DQN","x":109900,"lo":295,"hi":360},{"d":25,"s":"Delayed DQN","x":114500,"lo":295,"hi":360},{"d":25,"s":"Delayed DQN","x":119700,"lo":270,"hi":335},{"d":25,"s":"Delayed DQN","x":124800,"lo":310,"hi":380},{"d":25,"s":"Delayed DQN","x":130000,"lo":290,"hi":355},
{"d":25,"s":"Oblivious EfficientZero","x":0,"lo":45,"hi":68},{"d":25,"s":"Oblivious EfficientZero","x":7100,"lo":180,"hi":210},{"d":25,"s":"Oblivious EfficientZero","x":11700,"lo":185,"hi":215},{"d":25,"s":"Oblivious EfficientZero","x":17500,"lo":225,"hi":255},{"d":25,"s":"Oblivious EfficientZero","x":22000,"lo":230,"hi":260},{"d":25,"s":"Oblivious EfficientZero","x":27200,"lo":203,"hi":231},{"d":25,"s":"Oblivious EfficientZero","x":31800,"lo":216,"hi":246},{"d":25,"s":"Oblivious EfficientZero","x":36400,"lo":250,"hi":280},{"d":25,"s":"Oblivious EfficientZero","x":41000,"lo":211,"hi":241},{"d":25,"s":"Oblivious EfficientZero","x":46200,"lo":266,"hi":298},{"d":25,"s":"Oblivious EfficientZero","x":50800,"lo":239,"hi":269},{"d":25,"s":"Oblivious EfficientZero","x":55900,"lo":175,"hi":203},{"d":25,"s":"Oblivious EfficientZero","x":61100,"lo":203,"hi":231},{"d":25,"s":"Oblivious EfficientZero","x":65900,"lo":305,"hi":343},{"d":25,"s":"Oblivious EfficientZero","x":71400,"lo":203,"hi":231},{"d":25,"s":"Oblivious EfficientZero","x":76000,"lo":230,"hi":260},{"d":25,"s":"Oblivious EfficientZero","x":81200,"lo":161,"hi":189},{"d":25,"s":"Oblivious EfficientZero","x":85800,"lo":209,"hi":237},{"d":25,"s":"Oblivious EfficientZero","x":91000,"lo":203,"hi":231},{"d":25,"s":"Oblivious EfficientZero","x":96100,"lo":183,"hi":211},{"d":25,"s":"Oblivious EfficientZero","x":101300,"lo":197,"hi":225},{"d":25,"s":"Oblivious EfficientZero","x":106500,"lo":186,"hi":214},{"d":25,"s":"Oblivious EfficientZero","x":111100,"lo":209,"hi":237},{"d":25,"s":"Oblivious EfficientZero","x":116200,"lo":189,"hi":217},{"d":25,"s":"Oblivious EfficientZero","x":121400,"lo":216,"hi":246},{"d":25,"s":"Oblivious EfficientZero","x":125400,"lo":203,"hi":231},{"d":25,"s":"Oblivious EfficientZero","x":130600,"lo":181,"hi":209},{"d":25,"s":"Oblivious EfficientZero","x":135800,"lo":263,"hi":295},{"d":25,"s":"Oblivious EfficientZero","x":140900,"lo":236,"hi":266},{"d":25,"s":"Oblivious EfficientZero","x":145500,"lo":286,"hi":318},{"d":25,"s":"Oblivious EfficientZero","x":149300,"lo":270,"hi":300}
]
},
"hconcat": [
{
 "width": 582, "height": 472,
 "title": {"text": "Delay=5", "frame": "group", "anchor": "middle", "offset": 8, "fontSize": 16.7, "fontWeight": "normal", "font": "DejaVu Sans", "color": "#000000"},
 "layer": [
  {"data": {"name": "bands"}, "transform": [{"filter": "datum.d == 5"}],
   "mark": {"type": "area", "opacity": 0.12},
   "encoding": {
    "x": {"field": "x", "type": "quantitative", "scale": {"domain": [-7450, 156450], "nice": false, "zero": false}, "axis": {"title": "steps", "values": [0,20000,40000,60000,80000,100000,120000,140000], "format": "d"}},
    "y": {"field": "lo", "type": "quantitative", "scale": {"domain": [-411, 9353], "nice": false, "zero": false}, "axis": {"title": "scores", "values": [0,2000,4000,6000,8000], "format": "d"}},
    "y2": {"field": "hi"},
    "fill": {"field": "s", "type": "nominal", "scale": {"domain": ["Delayed EfficientZero","Delayed DQN","Oblivious EfficientZero"], "range": ["#00ffff","#ff0000","#808080"]}, "legend": null}
   }},
  {"data": {"name": "lines"}, "transform": [{"filter": "datum.d == 5"}],
   "mark": {"type": "line", "strokeWidth": 2.7},
   "encoding": {
    "x": {"field": "x", "type": "quantitative"},
    "y": {"field": "y", "type": "quantitative"},
    "color": {"field": "s", "type": "nominal", "scale": {"domain": ["Delayed DQN","Delayed EfficientZero","Oblivious EfficientZero"], "range": ["#ff0000","#00ffff","#808080"]}, "legend": {"orient": "top-right", "offset": 6.5, "direction": "vertical", "title": null, "symbolType": "M-1,0H4.08", "symbolStrokeWidth": 2.8, "symbolSize": 149, "symbolOpacity": 1, "labelFontSize": 13.9, "labelFont": "DejaVu Sans", "labelColor": "#000000", "fillColor": "rgba(255,255,255,0.8)", "strokeColor": "#cccccc", "padding": 5, "cornerRadius": 3, "rowPadding": 6, "labelOffset": 27.8, "labelLimit": 400}}
   }}
 ]
},
{
 "width": 582, "height": 472,
 "title": {"text": "Delay=15", "frame": "group", "anchor": "middle", "offset": 8, "fontSize": 16.7, "fontWeight": "normal", "font": "DejaVu Sans", "color": "#000000"},
 "layer": [
  {"data": {"name": "bands"}, "transform": [{"filter": "datum.d == 15"}],
   "mark": {"type": "area", "opacity": 0.12},
   "encoding": {
    "x": {"field": "x", "type": "quantitative", "scale": {"domain": [-7450, 156450], "nice": false, "zero": false}, "axis": {"title": "steps", "values": [0,20000,40000,60000,80000,100000,120000,140000], "format": "d"}},
    "y": {"field": "lo", "type": "quantitative", "scale": {"domain": [-332, 7543], "nice": false, "zero": false}, "axis": {"title": "scores", "values": [0,1000,2000,3000,4000,5000,6000,7000], "format": "d"}},
    "y2": {"field": "hi"},
    "fill": {"field": "s", "type": "nominal", "scale": {"domain": ["Delayed EfficientZero","Delayed DQN","Oblivious EfficientZero"], "range": ["#00ffff","#ff0000","#808080"]}, "legend": null}
   }},
  {"data": {"name": "lines"}, "transform": [{"filter": "datum.d == 15"}],
   "mark": {"type": "line", "strokeWidth": 2.7},
   "encoding": {
    "x": {"field": "x", "type": "quantitative"},
    "y": {"field": "y", "type": "quantitative"},
    "color": {"field": "s", "type": "nominal", "scale": {"domain": ["Delayed DQN","Delayed EfficientZero","Oblivious EfficientZero"], "range": ["#ff0000","#00ffff","#808080"]}, "legend": null}
   }}
 ]
},
{
 "width": 582, "height": 472,
 "title": {"text": "Delay=25", "frame": "group", "anchor": "middle", "offset": 8, "fontSize": 16.7, "fontWeight": "normal", "font": "DejaVu Sans", "color": "#000000"},
 "layer": [
  {"data": {"name": "bands"}, "transform": [{"filter": "datum.d == 25"}],
   "mark": {"type": "area", "opacity": 0.12},
   "encoding": {
    "x": {"field": "x", "type": "quantitative", "scale": {"domain": [-7450, 156450], "nice": false, "zero": false}, "axis": {"title": "steps", "values": [0,20000,40000,60000,80000,100000,120000,140000], "format": "d"}},
    "y": {"field": "lo", "type": "quantitative", "scale": {"domain": [-146, 3864], "nice": false, "zero": false}, "axis": {"title": "scores", "values": [0,500,1000,1500,2000,2500,3000,3500], "format": "d"}},
    "y2": {"field": "hi"},
    "fill": {"field": "s", "type": "nominal", "scale": {"domain": ["Delayed EfficientZero","Delayed DQN","Oblivious EfficientZero"], "range": ["#00ffff","#ff0000","#808080"]}, "legend": null}
   }},
  {"data": {"name": "lines"}, "transform": [{"filter": "datum.d == 25"}],
   "mark": {"type": "line", "strokeWidth": 2.7},
   "encoding": {
    "x": {"field": "x", "type": "quantitative"},
    "y": {"field": "y", "type": "quantitative"},
    "color": {"field": "s", "type": "nominal", "scale": {"domain": ["Delayed DQN","Delayed EfficientZero","Oblivious EfficientZero"], "range": ["#ff0000","#00ffff","#808080"]}, "legend": null}
   }}
 ]
}
],
"resolve": {"scale": {"x": "independent", "y": "independent", "color": "independent", "fill": "independent"}, "legend": {"color": "independent", "fill": "independent"}}
}
